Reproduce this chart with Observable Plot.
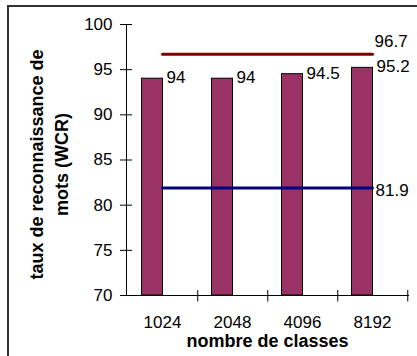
<!DOCTYPE html>
<html>
<head>
<meta charset="utf-8">
<script src="https://cdn.jsdelivr.net/npm/d3@7"></script>
<script src="https://cdn.jsdelivr.net/npm/@observablehq/plot@0.6"></script>
<style>
  html, body { margin: 0; padding: 0; background: #fff; }
  body { width: 417px; height: 356px; overflow: hidden; position: relative; font-family: "Liberation Sans", Arial, sans-serif; }
  #border { position: absolute; left: 7px; top: 5px; width: 500px; height: 500px; border-left: 2px solid #333; border-top: 2px solid #333; box-sizing: border-box; }
  #chart { position: absolute; left: 0; top: 0; }
</style>
</head>
<body>
<div id="border"></div>
<div id="chart"></div>
<script>
const categories = ["1024", "2048", "4096", "8192"];
const wcrValues = [94, 94, 94.5, 95.2];
const upperLine = [96.7, 96.7, 96.7, 96.7];
const lowerLine = [81.9, 81.9, 81.9, 81.9];
const yTicks = [70, 75, 80, 85, 90, 95, 100];
const xTitle = "nombre de classes";
const yTitleLines = ["taux de reconnaissance de", "mots (WCR)"];

const bars = categories.map((c, i) => ({cat: c, value: wcrValues[i]}));
const upper = categories.map((c, i) => ({cat: c, value: upperLine[i]}));
const lower = categories.map((c, i) => ({cat: c, value: lowerLine[i]}));

const font = "Liberation Sans, Arial, sans-serif";

const chart = Plot.plot({
  width: 417,
  height: 356,
  marginLeft: 126,
  marginRight: 9,
  marginTop: 24,
  marginBottom: 61,
  style: {fontFamily: font, background: "transparent", overflow: "visible"},
  x: {type: "band", domain: categories, padding: 0, axis: null},
  y: {domain: [70, 100], axis: null},
  marks: [
    Plot.barY(bars, {x: "cat", y1: 70, y2: "value", fill: "#993366", stroke: "#000", strokeWidth: 1, insetLeft: 14.5, insetRight: 34.5}),
    Plot.lineY(upper, {x: "cat", y: "value", stroke: "#800000", strokeWidth: 3}),
    Plot.lineY(lower, {x: "cat", y: "value", stroke: "#000080", strokeWidth: 3}),
    Plot.frame({anchor: "left", stroke: "#000"}),
    Plot.frame({anchor: "bottom", stroke: "#000"}),
    Plot.axisY({ticks: yTicks, tickSize: 12, dx: 6, tickFormat: () => "", stroke: "#000", label: null}),
    Plot.axisY({ticks: yTicks, tickSize: 0, tickPadding: 14, fontSize: 17, fill: "#000", label: null}),
    Plot.ruleX(categories, {x: d => d, dx: 35.25, insetTop: 266, insetBottom: -6.5, stroke: "#000"}),
    Plot.axisX({tickSize: 0, tickPadding: 20, fontSize: 17, fill: "#000", label: null}),
    Plot.text(bars, {x: "cat", y: "value", text: d => String(d.value), textAnchor: "start", dx: 4, dy: -1, fontSize: 17, fill: "#000"}),
    Plot.text(upper.slice(-1), {x: "cat", y: "value", text: d => String(d.value), textAnchor: "start", dx: 2, dy: -13, fontSize: 17, fill: "#000"}),
    Plot.text(lower.slice(-1), {x: "cat", y: "value", text: d => String(d.value), textAnchor: "start", dx: 3, dy: 3, fontSize: 17, fill: "#000"}),
    Plot.text([xTitle], {frameAnchor: "bottom", dy: 45.5, text: d => d, lineAnchor: "middle", textAnchor: "middle", fontSize: 18, fontWeight: "bold", fill: "#000"}),
    Plot.text([yTitleLines[0]], {frameAnchor: "left", dx: -89, dy: 4.5, rotate: () => -90, text: d => d, lineAnchor: "middle", textAnchor: "middle", fontSize: 18, fontWeight: "bold", fill: "#000"}),
    Plot.text([yTitleLines[1]], {frameAnchor: "left", dx: -64, dy: 4.5, rotate: () => -90, text: d => d, lineAnchor: "middle", textAnchor: "middle", fontSize: 18, fontWeight: "bold", fill: "#000"})
  ]
});
document.getElementById("chart").appendChild(chart);
</script>
</body>
</html>
